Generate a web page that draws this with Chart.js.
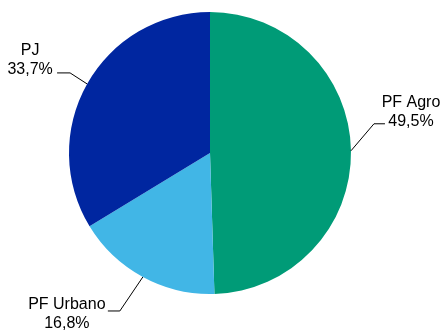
<!DOCTYPE html>
<html>
<head>
<meta charset="utf-8">
<script src="https://cdn.jsdelivr.net/npm/chart.js@4.4.1/dist/chart.umd.min.js"></script>
<style>
  html, body { margin: 0; padding: 0; background: #fff; }
  #wrap { width: 443px; height: 330px; position: relative; }
</style>
</head>
<body>
<div id="wrap"><canvas id="myPieChart"></canvas></div>
<script>
// data
var categories = ["PF Agro", "PF Urbano", "PJ"];
var shares = [49.5, 16.8, 33.7];
var colors = ["#009b77", "#41b6e6", "#0026a0"];

// label placement relative to the slice edge point (elbow offset, horizontal tail, text centre)
var labelStyle = [
    { dx: 23, dy: -27, tail: 11, textDx: 60, textDy: -44 },
    { dx: -23, dy: 34, tail: -12, textDx: -76, textDy: 32 },
    { dx: -17, dy: -11, tail: -13, textDx: -57, textDy: -29 }
];

function fmt(v) {
    return v.toFixed(1).replace(".", ",") + "%";
}

var leaderLabels = {
    id: "leaderLabels",
    afterDatasetsDraw: function (chart) {
        var ctx = chart.ctx;
        var meta = chart.getDatasetMeta(0);
        ctx.save();
        ctx.font = "16px 'Liberation Sans', Arial, sans-serif";
        ctx.fillStyle = "#000";
        ctx.strokeStyle = "#000";
        ctx.lineWidth = 1;
        ctx.textAlign = "center";
        ctx.textBaseline = "alphabetic";
        meta.data.forEach(function (arc, i) {
            var p = arc.getProps(["x", "y", "startAngle", "endAngle", "outerRadius"], true);
            var mid = (p.startAngle + p.endAngle) / 2;
            var ax = p.x + Math.cos(mid) * p.outerRadius;
            var ay = p.y + Math.sin(mid) * p.outerRadius;
            var s = labelStyle[i];
            var ex = ax + s.dx, ey = ay + s.dy;
            ctx.beginPath();
            ctx.moveTo(ax, ay);
            ctx.lineTo(ex, ey);
            ctx.lineTo(ex + s.tail, ey);
            ctx.stroke();
            var tx = ax + s.textDx, ty = ay + s.textDy;
            ctx.fillText(categories[i], tx, ty);
            ctx.fillText(fmt(shares[i]), tx, ty + 19);
        });
        ctx.restore();
    }
};

var citiesChart = document.getElementById("myPieChart");
var PieChart = new Chart(citiesChart, {
    type: "pie",
    data: {
        labels: categories,
        datasets: [{
            data: shares,
            backgroundColor: colors,
            borderWidth: 0
        }]
    },
    options: {
        responsive: true,
        maintainAspectRatio: false,
        animation: false,
        layout: { padding: { left: 68, right: 91, top: 12, bottom: 36 } },
        plugins: {
            legend: { display: false },
            tooltip: { enabled: false }
        }
    },
    plugins: [leaderLabels]
});
</script>
</body>
</html>
